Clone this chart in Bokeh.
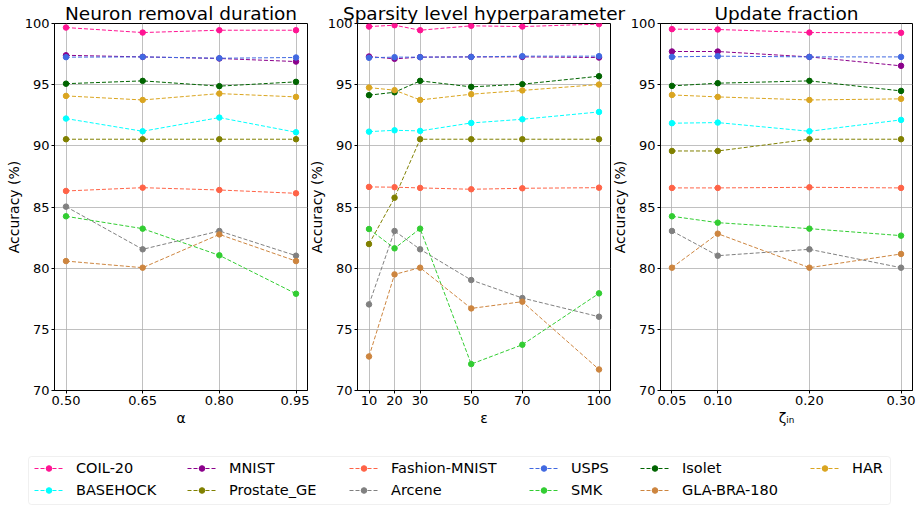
from bokeh.plotting import figure
from bokeh.layouts import column, row
from bokeh.models import (FixedTicker, NumeralTickFormatter, Legend, LegendItem,
                          Range1d, ColumnDataSource, BoxAnnotation)
from bokeh.embed import file_html
from bokeh.resources import INLINE

# ---------------- data ----------------
names = ["COIL-20", "BASEHOCK", "MNIST", "Prostate_GE", "Fashion-MNIST", "Arcene",
         "USPS", "SMK", "Isolet", "GLA-BRA-180", "HAR"]
colors = ["#ff1493", "#00ffff", "#8b008b", "#808000", "#ff6347", "#808080",
          "#4169e1", "#32cd32", "#006400", "#cd853f", "#daa520"]

alpha_vals = [0.50, 0.65, 0.80, 0.95]
eps_vals = [10, 20, 30, 50, 70, 100]
zeta_vals = [0.05, 0.10, 0.20, 0.30]
y_ticks = [70, 75, 80, 85, 90, 95, 100]

acc_alpha = {
    "COIL-20":       [99.67, 99.26, 99.45, 99.45],
    "BASEHOCK":      [92.23, 91.19, 92.31, 91.11],
    "MNIST":         [97.40, 97.27, 97.14, 96.89],
    "Prostate_GE":   [90.54, 90.54, 90.54, 90.54],
    "Fashion-MNIST": [86.31, 86.58, 86.39, 86.12],
    "Arcene":        [85.03, 81.54, 83.04, 81.02],
    "USPS":          [97.25, 97.27, 97.16, 97.22],
    "SMK":           [84.24, 83.23, 81.05, 77.91],
    "Isolet":        [95.08, 95.31, 94.88, 95.23],
    "GLA-BRA-180":   [80.58, 80.04, 82.76, 80.58],
    "HAR":           [94.08, 93.75, 94.27, 94.00],
}
acc_eps = {
    "COIL-20":       [99.75, 99.86, 99.45, 99.81, 99.75, 99.95],
    "BASEHOCK":      [91.16, 91.27, 91.22, 91.87, 92.17, 92.77],
    "MNIST":         [97.30, 97.11, 97.25, 97.27, 97.27, 97.22],
    "Prostate_GE":   [81.97, 85.76, 90.54, 90.54, 90.54, 90.54],
    "Fashion-MNIST": [86.64, 86.62, 86.56, 86.45, 86.53, 86.58],
    "Arcene":        [77.04, 83.04, 81.54, 79.03, 77.56, 76.03],
    "USPS":          [97.20, 97.25, 97.25, 97.27, 97.33, 97.33],
    "SMK":           [83.20, 81.62, 83.23, 72.16, 73.74, 77.94],
    "Isolet":        [94.14, 94.38, 95.31, 94.82, 95.04, 95.69],
    "GLA-BRA-180":   [72.78, 79.49, 80.04, 76.71, 77.26, 71.72],
    "HAR":           [94.76, 94.55, 93.75, 94.22, 94.53, 95.01],
}
acc_zeta = {
    "COIL-20":       [99.54, 99.51, 99.26, 99.24],
    "BASEHOCK":      [91.85, 91.90, 91.19, 92.12],
    "MNIST":         [97.71, 97.71, 97.27, 96.54],
    "Prostate_GE":   [89.58, 89.58, 90.54, 90.54],
    "Fashion-MNIST": [86.56, 86.56, 86.61, 86.56],
    "Arcene":        [83.04, 81.02, 81.54, 80.04],
    "USPS":          [97.27, 97.33, 97.27, 97.27],
    "SMK":           [84.24, 83.72, 83.23, 82.66],
    "Isolet":        [94.90, 95.12, 95.31, 94.49],
    "GLA-BRA-180":   [80.04, 82.82, 80.04, 81.16],
    "HAR":           [94.16, 94.00, 93.75, 93.84],
}

legend_columns = [["COIL-20", "BASEHOCK"], ["MNIST", "Prostate_GE"],
                  ["Fashion-MNIST", "Arcene"], ["USPS", "SMK"],
                  ["Isolet", "GLA-BRA-180"], ["HAR"]]

FONT = "DejaVu Sans"
DASH = "4 2"


def make_panel(title, xs, acc, xlabel, fmt, left, width, right):
    span = xs[-1] - xs[0]
    p = figure(width=width, height=437, output_backend="svg", toolbar_location=None,
               x_range=Range1d(xs[0] - 0.05 * span, xs[-1] + 0.05 * span),
               y_range=Range1d(70, 100),
               min_border_left=left, min_border_right=right,
               min_border_top=23, min_border_bottom=47)
    p.border_fill_alpha = 0
    p.title.text = title
    p.title.align = "center"
    p.title.text_font = FONT
    p.title.text_font_size = "18.5px"
    p.title.text_font_style = "normal"
    p.title.text_color = "black"
    p.title.standoff = 0
    p.title.offset = 0
    p.outline_line_color = "black"
    p.outline_line_width = 1
    p.outline_line_alpha = 1
    for ax in (p.xaxis[0], p.yaxis[0]):
        ax.axis_line_color = "black"
        ax.major_tick_in = 0
        ax.major_tick_out = 3
        ax.minor_tick_line_color = None
        ax.major_tick_line_color = "black"
        ax.major_label_text_font = FONT
        ax.major_label_text_font_size = "13px"
        ax.major_label_text_color = "black"
        ax.axis_label_text_font = FONT
        ax.axis_label_text_font_size = "14px"
        ax.axis_label_text_font_style = "normal"
        ax.axis_label_text_color = "black"
        ax.major_label_standoff = 2
    p.xaxis.axis_label_standoff = 2
    p.yaxis.axis_label_standoff = 0
    p.xaxis.ticker = FixedTicker(ticks=xs)
    if fmt:
        p.xaxis.formatter = NumeralTickFormatter(format=fmt)
    p.yaxis.ticker = FixedTicker(ticks=y_ticks)
    p.xaxis.axis_label = xlabel
    p.yaxis.axis_label = "Accuracy (%)"
    for g in (p.xgrid[0], p.ygrid[0]):
        g.grid_line_color = "#b0b0b0"
        g.grid_line_width = 0.8
    for name, col in zip(names, colors):
        src = ColumnDataSource(dict(x=xs, y=acc[name]))
        p.line("x", "y", source=src, line_color=col, line_width=1, line_dash=DASH)
        p.scatter("x", "y", source=src, size=5.5, fill_color=col, line_color=col)
    return p


p1 = make_panel("Neuron removal duration", alpha_vals, acc_alpha, "α", "0.00", 54, 309, 2)
p1.border_fill_alpha = 1
p2 = make_panel("Sparsity level hyperparameter", eps_vals, acc_eps, "ε", None, 56, 349, 40)
p2.margin = (0, 0, 0, -8)
p3 = make_panel("Update fraction", zeta_vals, acc_zeta, "ζᵢₙ", "0.00", 56, 313, 5)
p3.margin = (0, 0, 0, -46)

# ---------------- legend strip ----------------
lf = figure(width=917, height=68, output_backend="svg", toolbar_location=None,
            x_range=Range1d(0, 917), y_range=Range1d(0, 68),
            x_axis_location=None, y_axis_location=None, min_border=0)
lf.outline_line_color = None
lf.grid.visible = False
lf.add_layout(BoxAnnotation(left=28, right=890, bottom=1, top=49,
                            fill_alpha=0, line_color="#cccccc", line_width=1,
                            border_radius=3))

col_x = [34, 187, 349, 529, 640, 810]
for cx, col_names in zip(col_x, legend_columns):
    items = []
    for name in col_names:
        c = colors[names.index(name)]
        r1 = lf.line(x=[-100, -90], y=[-100, -100], line_color=c, line_width=1, line_dash=DASH)
        r2 = lf.scatter(x=[-100], y=[-100], size=5.5, fill_color=c, line_color=c)
        items.append(LegendItem(label=name, renderers=[r1, r2]))
    bottom = 5 if len(col_names) == 2 else 27
    leg = Legend(items=items, orientation="vertical", location=(cx, bottom),
                 label_text_font=FONT, label_text_font_size="14.5px",
                 label_text_color="black",
                 glyph_width=29, glyph_height=14, label_standoff=13, spacing=2,
                 padding=0, margin=0, label_height=20,
                 border_line_color=None, background_fill_alpha=0)
    lf.add_layout(leg, "center")

layout = column(row(p1, p2, p3), lf)
open("out.html", "w").write(file_html(layout, INLINE))
